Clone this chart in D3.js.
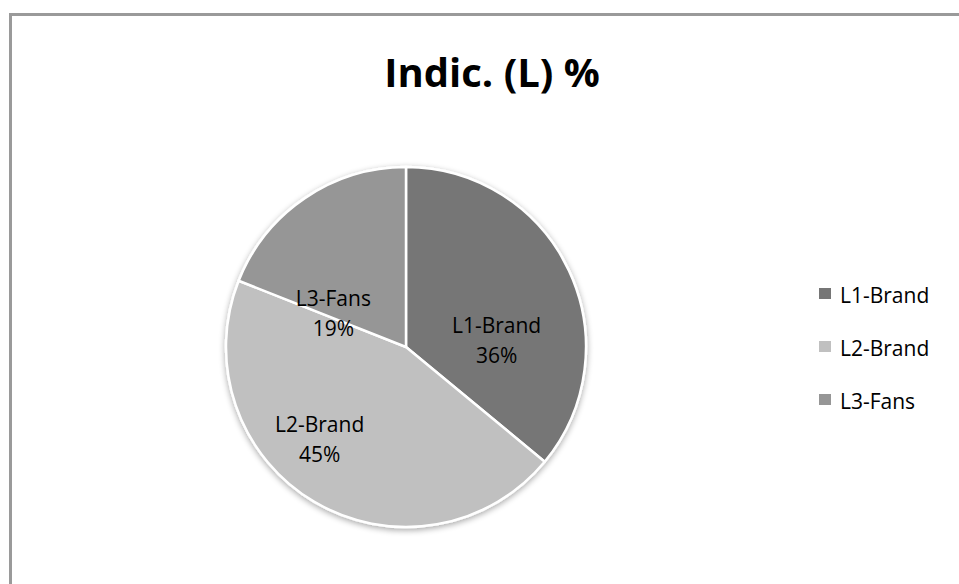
<!DOCTYPE html>
<html>
<head>
<meta charset="utf-8">
<script src="https://cdn.jsdelivr.net/npm/d3@7"></script>
<style>
  html, body { margin: 0; padding: 0; background: #fff; }
  svg { display: block; }
  text { font-family: "Open Sans", Lato, "Liberation Sans", sans-serif; }
</style>
</head>
<body>
<svg id="chart" width="959" height="584"></svg>
<script>
// Share of each level in the indicator
const categories = ["L1-Brand", "L2-Brand", "L3-Fans"];
const values = [36, 45, 19];
const colors = ["#767676", "#c0c0c0", "#969696"];
const title = "Indic. (L) %";

const svg = d3.select("#chart");
const W = 959, H = 584;

// chart area frame (continues past the right and bottom edges)
svg.append("rect")
  .attr("x", 10.5).attr("y", 14.5)
  .attr("width", W + 20).attr("height", H + 20)
  .attr("fill", "#fff")
  .attr("stroke", "#9a9a9a").attr("stroke-width", 3);

svg.append("text")
  .attr("x", 492).attr("y", 87)
  .attr("text-anchor", "middle")
  .attr("font-size", 40).attr("font-weight", "bold")
  .attr("fill", "#000")
  .text(title);

// soft shadow under the pie
const defs = svg.append("defs");
const f = defs.append("filter").attr("id", "shadow")
  .attr("x", "-20%").attr("y", "-20%").attr("width", "140%").attr("height", "140%");
f.append("feGaussianBlur").attr("in", "SourceAlpha").attr("stdDeviation", 3).attr("result", "b");
f.append("feOffset").attr("in", "b").attr("dy", 2).attr("result", "o");
f.append("feComponentTransfer").attr("in", "o").attr("result", "s")
  .append("feFuncA").attr("type", "linear").attr("slope", 0.35);
const m = f.append("feMerge");
m.append("feMergeNode").attr("in", "s");
m.append("feMergeNode").attr("in", "SourceGraphic");

const cx = 406, cy = 347, r = 180;
const color = d3.scaleOrdinal().domain(categories).range(colors);
const pie = d3.pie().sort(null).value(d => d.value);
const data = categories.map((c, i) => ({ name: c, value: values[i] }));
const arcs = pie(data);
const arc = d3.arc().innerRadius(0).outerRadius(r);
const labelArc = d3.arc().innerRadius(r * 0.55).outerRadius(r * 0.55);
// best-fit shift of each data label away from the slice centroid
const labelShift = { "L1-Brand": [1, 36], "L2-Brand": [-36, 8], "L3-Fans": [-17, 49] };

const g = svg.append("g").attr("transform", `translate(${cx},${cy})`);
g.append("g").attr("filter", "url(#shadow)")
  .selectAll("path").data(arcs).join("path")
  .attr("d", arc)
  .attr("fill", d => color(d.data.name))
  .attr("stroke", "#fff").attr("stroke-width", 2.5)
  .attr("stroke-linejoin", "round");

const total = d3.sum(values);
const labels = g.selectAll("text.lbl").data(arcs).join("text")
  .attr("class", "lbl")
  .attr("transform", d => {
    const [x, y] = labelArc.centroid(d);
    const [sx, sy] = labelShift[d.data.name];
    return `translate(${x + sx},${y + sy})`;
  })
  .attr("text-anchor", "middle")
  .attr("font-size", 21).attr("fill", "#000");
labels.append("tspan").attr("x", 0).attr("y", -8).text(d => d.data.name);
labels.append("tspan").attr("x", 0).attr("y", 22)
  .text(d => Math.round(d.data.value / total * 100) + "%");

// legend
const leg = svg.append("g").attr("transform", "translate(819,288)");
const rows = leg.selectAll("g").data(categories).join("g")
  .attr("transform", (d, i) => `translate(0,${i * 53})`);
rows.append("rect").attr("x", 0).attr("y", 0).attr("width", 12).attr("height", 11)
  .attr("fill", d => color(d));
rows.append("text").attr("x", 21).attr("y", 15)
  .attr("font-size", 21).attr("fill", "#000")
  .text(d => d);
</script>
</body>
</html>
